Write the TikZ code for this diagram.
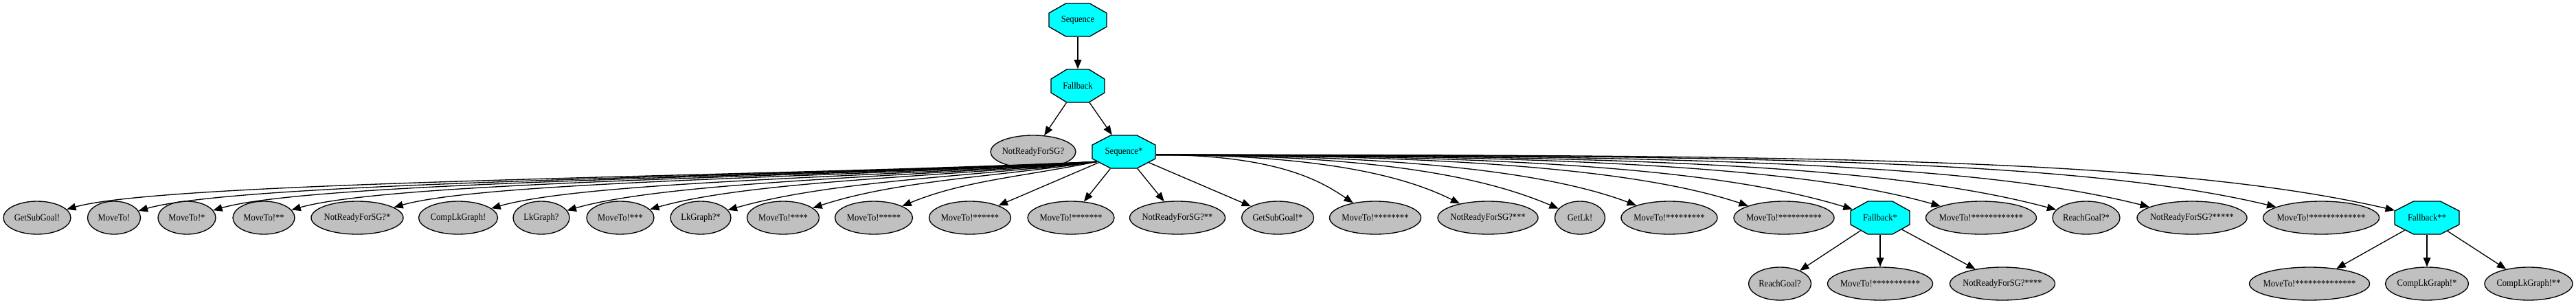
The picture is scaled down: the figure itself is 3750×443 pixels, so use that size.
\documentclass[tikz,border=0pt]{standalone}
\usepackage{fontspec}
\setmainfont{Liberation Serif}
\usepackage{graphicx}
\usetikzlibrary{arrows.meta,shapes.geometric}
\definecolor{lgray}{HTML}{C0C0C0}
\definecolor{aqua}{RGB}{0,255,255}
\newcommand\lbl[1]{\makebox[0pt]{\scalebox{0.9}[1]{#1}}}
\newcommand\leafnode[5]{\node[leaf, minimum width=#4*0.75pt] (#1) at (#2,#3) {\lbl{#5}};}
\newcommand\octnode[6]{\begin{scope}[shift={(#2,#3)}]\node[oct, xscale=#4] (#1) at (0,0) {\makebox[0pt]{\scalebox{#5}[1]{#6}}};\end{scope}}
\newcommand\ledge[2]{\draw[conn] (seqs.215) .. controls +({-0.3*#2},22) and +({min(0.25*#2,150)+40},-54) .. (#1);}
\newcommand\redge[2]{\draw[conn] (seqs.-10) .. controls +({0.5*#2},0) and +({-0.2*#2},{-(40+0.025*#2)}) .. (#1);}
\begin{document}
\begin{tikzpicture}[x=0.75pt,y=-0.75pt,
  leaf/.style={ellipse, draw, fill=lgray, line width=1pt, minimum height=36pt, inner sep=0pt, font=\fontsize{10.5}{12}\selectfont},
  oct/.style={regular polygon, regular polygon sides=8, minimum size=38.97pt, inner sep=0pt, draw, fill=aqua, line width=1pt, transform shape, font=\fontsize{10.5}{12}\selectfont},
  conn/.style={-{Triangle[length=10pt,width=8pt]}, line width=1pt}]
\useasboundingbox (0,0) rectangle (3750,443);
% top
\octnode{seq}{1569}{29}{1.75}{0.514}{Sequence}
\octnode{fb}{1569}{125}{1.625}{0.554}{Fallback}
\leafnode{nr}{1504}{221}{124}{NotReadyForSG?}
\octnode{seqs}{1636}{221}{1.9167}{0.470}{Sequence*}
% row 3
\leafnode{c1}{54}{317}{98}{GetSubGoal!}
\leafnode{c2}{166}{317}{77}{MoveTo!}
\leafnode{c3}{272}{317}{84}{MoveTo!*}
\leafnode{c4}{384}{317}{90}{MoveTo!**}
\leafnode{c5}{520}{317}{134}{NotReadyForSG?*}
\leafnode{c6}{667}{317}{115}{CompLkGraph!}
\leafnode{c7}{788}{317}{82}{LkGraph?}
\leafnode{c8}{903}{317}{98}{MoveTo!***}
\leafnode{c9}{1020}{317}{88}{LkGraph?*}
\leafnode{c10}{1140}{317}{105}{MoveTo!****}
\leafnode{c11}{1272}{317}{113}{MoveTo!*****}
\leafnode{c12}{1412}{317}{119}{MoveTo!******}
\leafnode{c13}{1559}{317}{126}{MoveTo!*******}
\leafnode{c14}{1714}{317}{139}{NotReadyForSG?**}
\leafnode{c15}{1860}{317}{105}{GetSubGoal!*}
\leafnode{c16}{2002}{317}{133}{MoveTo!********}
\leafnode{c17}{2166}{317}{146}{NotReadyForSG?***}
\leafnode{c18}{2300}{317}{73}{GetLk!}
\leafnode{c19}{2430}{317}{140}{MoveTo!*********}
\leafnode{c20}{2597}{317}{146}{MoveTo!**********}
\octnode{c21}{2737}{317}{1.7917}{0.502}{Fallback*}
\leafnode{c22}{2884}{317}{161}{MoveTo!************}
\leafnode{c23}{3037}{317}{98}{ReachGoal?*}
\leafnode{c24}{3191}{317}{160}{NotReadyForSG?*****}
\leafnode{c25}{3379}{317}{169}{MoveTo!*************}
\octnode{c26}{3533}{317}{1.9583}{0.460}{Fallback**}
% row 4
\leafnode{d1}{2591}{413}{91}{ReachGoal?}
\leafnode{d2}{2737}{413}{153}{MoveTo!***********}
\leafnode{d3}{2915}{413}{153}{NotReadyForSG?****}
\leafnode{d4}{3362}{413}{175}{MoveTo!**************}
\leafnode{d5}{3533}{413}{121}{CompLkGraph!*}
\leafnode{d6}{3681}{413}{128}{CompLkGraph!**}
% edges
\draw[conn] (seq) -- (fb);
\draw[conn] (fb) -- (nr);
\draw[conn] (fb) -- (seqs);
\ledge{c1}{1582}
\ledge{c2}{1470}
\ledge{c3}{1364}
\ledge{c4}{1252}
\ledge{c5}{1116}
\ledge{c6}{969}
\ledge{c7}{848}
\ledge{c8}{733}
\ledge{c9}{616}
\ledge{c10}{496}
\ledge{c11}{364}
\draw[conn] (seqs) -- (c12);
\draw[conn] (seqs) -- (c13);
\draw[conn] (seqs) -- (c14);
\draw[conn] (seqs) -- (c15);
\redge{c16}{366}
\redge{c17}{530}
\redge{c18}{664}
\redge{c19}{794}
\redge{c20}{961}
\redge{c21}{1101}
\redge{c22}{1248}
\redge{c23}{1401}
\redge{c24}{1555}
\redge{c25}{1743}
\redge{c26}{1897}
\draw[conn] (c21) -- (d1);
\draw[conn] (c21) -- (d2);
\draw[conn] (c21) -- (d3);
\draw[conn] (c26) -- (d4);
\draw[conn] (c26) -- (d5);
\draw[conn] (c26) -- (d6);
\end{tikzpicture}
\end{document}
